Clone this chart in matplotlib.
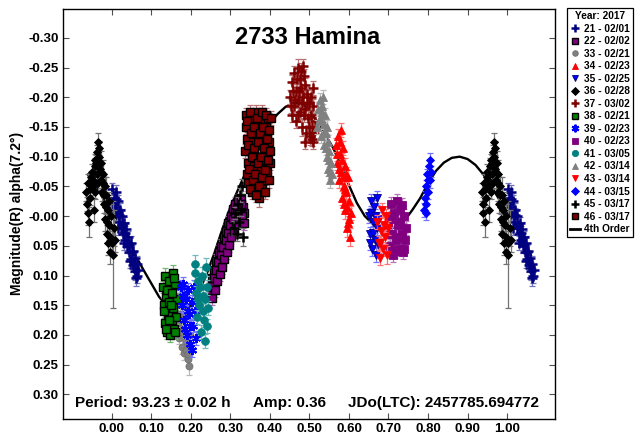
"""Folded lightcurve of 2733 Hamina with a 4th order Fourier fit."""

import matplotlib

matplotlib.use("Agg")
import matplotlib.pyplot as plt
import numpy as np
from matplotlib.colors import to_rgb
from matplotlib.lines import Line2D

# (phase, mag, error) for each observing session
SESSION_21 = [
    (0.002, -0.045, 0.010), (0.005, -0.030, 0.012), (0.008, -0.015, 0.010),
    (0.010, -0.040, 0.012), (0.013, -0.005, 0.012), (0.016, -0.025, 0.010),
    (0.018, 0.010, 0.012), (0.021, -0.010, 0.012), (0.024, 0.020, 0.010),
    (0.026, 0.000, 0.012), (0.029, 0.030, 0.012), (0.032, 0.012, 0.010),
    (0.034, 0.040, 0.012), (0.037, 0.022, 0.012), (0.040, 0.050, 0.012),
    (0.042, 0.035, 0.010), (0.045, 0.060, 0.012), (0.048, 0.045, 0.012),
    (0.050, 0.072, 0.015), (0.053, 0.058, 0.012), (0.055, 0.082, 0.012),
    (0.058, 0.070, 0.012), (0.060, 0.092, 0.015), (0.063, 0.080, 0.012),
    (0.065, 0.100, 0.012), (0.067, 0.090, 0.010), (0.004, -0.020, 0.012),
    (0.011, -0.028, 0.010), (0.019, -0.002, 0.012), (0.027, 0.015, 0.012),
    (0.035, 0.028, 0.012), (0.043, 0.048, 0.012), (0.051, 0.060, 0.012),
    (0.057, 0.088, 0.015), (0.062, 0.105, 0.012), (0.047, 0.075, 0.012),
    (0.031, 0.045, 0.012), (0.015, 0.020, 0.012),
]
SESSION_22 = [
    (0.250, 0.130, 0.010), (0.253, 0.105, 0.012), (0.256, 0.120, 0.010),
    (0.259, 0.090, 0.012), (0.262, 0.110, 0.010), (0.265, 0.075, 0.012),
    (0.268, 0.095, 0.010), (0.271, 0.060, 0.012), (0.274, 0.080, 0.010),
    (0.277, 0.050, 0.012), (0.280, 0.068, 0.010), (0.283, 0.035, 0.012),
    (0.286, 0.055, 0.010), (0.289, 0.025, 0.012), (0.292, 0.045, 0.010),
    (0.295, 0.012, 0.012), (0.298, 0.032, 0.010), (0.301, 0.000, 0.012),
    (0.304, 0.020, 0.010), (0.307, -0.012, 0.012), (0.310, 0.008, 0.010),
    (0.313, -0.020, 0.012), (0.316, 0.000, 0.010), (0.320, -0.025, 0.012),
    (0.324, -0.008, 0.010), (0.328, -0.030, 0.012), (0.332, -0.015, 0.010),
    (0.335, -0.005, 0.012), (0.252, 0.118, 0.010), (0.255, 0.138, 0.012),
    (0.258, 0.105, 0.010), (0.261, 0.125, 0.012), (0.264, 0.090, 0.010),
    (0.267, 0.110, 0.012), (0.270, 0.078, 0.010), (0.273, 0.098, 0.012),
    (0.276, 0.065, 0.010), (0.279, 0.085, 0.012), (0.282, 0.052, 0.010),
    (0.285, 0.072, 0.012), (0.288, 0.040, 0.010), (0.291, 0.060, 0.012),
    (0.294, 0.028, 0.010), (0.297, 0.048, 0.012), (0.300, 0.015, 0.010),
    (0.303, 0.035, 0.012), (0.306, 0.005, 0.010), (0.309, 0.025, 0.012),
    (0.312, -0.005, 0.010), (0.315, 0.015, 0.012), (0.318, -0.012, 0.010),
    (0.322, 0.005, 0.012), (0.326, -0.020, 0.010), (0.330, 0.000, 0.012),
    (0.334, 0.012, 0.012),
]
SESSION_33 = [
    (0.165, 0.150, 0.012), (0.168, 0.180, 0.012), (0.171, 0.205, 0.010),
    (0.174, 0.165, 0.012), (0.177, 0.220, 0.012), (0.180, 0.190, 0.010),
    (0.183, 0.230, 0.012), (0.186, 0.170, 0.012), (0.189, 0.210, 0.010),
    (0.192, 0.240, 0.012), (0.195, 0.252, 0.015), (0.198, 0.200, 0.012),
    (0.170, 0.135, 0.012), (0.176, 0.195, 0.012), (0.182, 0.150, 0.012),
    (0.188, 0.225, 0.012), (0.194, 0.232, 0.012),
]
SESSION_34 = [
    (0.568, -0.120, 0.012), (0.571, -0.090, 0.012), (0.573, -0.135, 0.012),
    (0.575, -0.060, 0.012), (0.577, -0.105, 0.012), (0.579, -0.145, 0.012),
    (0.581, -0.075, 0.012), (0.583, -0.030, 0.012), (0.585, -0.115, 0.012),
    (0.587, -0.050, 0.012), (0.589, -0.085, 0.012), (0.591, -0.010, 0.015),
    (0.593, -0.040, 0.012), (0.595, 0.020, 0.015), (0.597, -0.065, 0.012),
    (0.599, 0.005, 0.012), (0.601, -0.025, 0.012), (0.603, 0.035, 0.015),
    (0.605, -0.005, 0.012), (0.570, -0.105, 0.012), (0.574, -0.080, 0.012),
    (0.578, -0.125, 0.012), (0.582, -0.095, 0.012), (0.586, -0.065, 0.012),
    (0.590, -0.045, 0.012), (0.594, -0.015, 0.012), (0.598, 0.012, 0.012),
    (0.592, -0.070, 0.012), (0.588, -0.020, 0.012),
]
SESSION_35 = [
    (0.650, 0.000, 0.012), (0.653, 0.030, 0.012), (0.655, -0.025, 0.012),
    (0.658, 0.055, 0.012), (0.660, 0.010, 0.012), (0.663, -0.015, 0.012),
    (0.665, 0.040, 0.012), (0.668, 0.065, 0.012), (0.670, 0.020, 0.012),
    (0.672, -0.030, 0.012), (0.675, 0.050, 0.012), (0.677, 0.005, 0.012),
    (0.652, 0.045, 0.012), (0.657, -0.005, 0.012), (0.662, 0.028, 0.012),
    (0.667, 0.000, 0.012),
]
SESSION_36 = [
    (0.936, -0.040, 0.015), (0.938, -0.020, 0.012), (0.940, -0.005, 0.020),
    (0.941, -0.055, 0.015), (0.943, 0.010, 0.025), (0.946, -0.030, 0.012),
    (0.948, -0.065, 0.010), (0.950, -0.075, 0.012), (0.953, -0.050, 0.015),
    (0.955, -0.010, 0.020), (0.957, -0.085, 0.012), (0.959, -0.095, 0.010),
    (0.962, -0.070, 0.012), (0.964, -0.108, 0.012), (0.966, -0.125, 0.015),
    (0.968, -0.100, 0.012), (0.970, -0.080, 0.015), (0.972, -0.060, 0.012),
    (0.974, -0.090, 0.020), (0.976, -0.040, 0.015), (0.978, -0.070, 0.025),
    (0.980, -0.020, 0.015), (0.982, -0.050, 0.015), (0.984, 0.005, 0.020),
    (0.986, -0.035, 0.030), (0.988, 0.030, 0.015), (0.990, -0.010, 0.020),
    (0.992, 0.045, 0.020), (0.994, 0.015, 0.025), (0.996, 0.060, 0.020),
    (0.998, 0.000, 0.020), (0.003, 0.065, 0.090), (0.006, 0.020, 0.030),
    (0.009, 0.040, 0.020), (0.945, -0.045, 0.012), (0.952, -0.060, 0.012),
    (0.958, -0.040, 0.012), (0.961, -0.090, 0.012), (0.965, -0.055, 0.012),
    (0.969, -0.115, 0.012), (0.973, -0.075, 0.012), (0.977, -0.055, 0.012),
    (0.981, -0.035, 0.012), (0.985, -0.015, 0.012), (0.989, 0.010, 0.015),
    (0.993, -0.025, 0.015), (0.997, 0.035, 0.015), (0.001, 0.045, 0.020),
]
SESSION_37 = [
    (0.452, -0.200, 0.012), (0.455, -0.170, 0.012), (0.457, -0.225, 0.012),
    (0.460, -0.185, 0.015), (0.462, -0.240, 0.012), (0.465, -0.160, 0.012),
    (0.467, -0.210, 0.012), (0.470, -0.250, 0.015), (0.472, -0.195, 0.012),
    (0.475, -0.230, 0.012), (0.477, -0.175, 0.012), (0.480, -0.215, 0.012),
    (0.482, -0.150, 0.015), (0.485, -0.200, 0.012), (0.487, -0.235, 0.012),
    (0.490, -0.180, 0.012), (0.492, -0.140, 0.012), (0.495, -0.205, 0.012),
    (0.497, -0.165, 0.012), (0.500, -0.190, 0.012), (0.502, -0.135, 0.015),
    (0.505, -0.170, 0.012), (0.507, -0.150, 0.012), (0.510, -0.125, 0.012),
    (0.513, -0.160, 0.012), (0.483, -0.252, 0.012), (0.510, -0.215, 0.012),
    (0.454, -0.185, 0.012), (0.459, -0.210, 0.012), (0.463, -0.195, 0.012),
    (0.468, -0.230, 0.012), (0.471, -0.170, 0.012), (0.474, -0.210, 0.012),
    (0.478, -0.245, 0.012), (0.481, -0.190, 0.012), (0.486, -0.170, 0.012),
    (0.489, -0.220, 0.012), (0.493, -0.190, 0.012), (0.498, -0.150, 0.012),
    (0.503, -0.200, 0.012), (0.506, -0.130, 0.012), (0.508, -0.185, 0.012),
    (0.512, -0.140, 0.012), (0.488, -0.125, 0.012),
]
SESSION_38 = [
    (0.130, 0.120, 0.010), (0.132, 0.150, 0.012), (0.134, 0.180, 0.010),
    (0.136, 0.100, 0.012), (0.138, 0.135, 0.010), (0.140, 0.195, 0.012),
    (0.142, 0.165, 0.010), (0.144, 0.110, 0.012), (0.146, 0.145, 0.010),
    (0.148, 0.200, 0.012), (0.150, 0.125, 0.010), (0.152, 0.175, 0.012),
    (0.154, 0.095, 0.012), (0.156, 0.155, 0.010), (0.158, 0.190, 0.012),
    (0.160, 0.115, 0.010), (0.162, 0.170, 0.012), (0.164, 0.140, 0.010),
    (0.133, 0.160, 0.012), (0.137, 0.190, 0.012), (0.141, 0.125, 0.012),
    (0.145, 0.175, 0.012), (0.149, 0.150, 0.012), (0.153, 0.130, 0.012),
    (0.157, 0.105, 0.012), (0.161, 0.195, 0.012),
]
SESSION_39 = [
    (0.175, 0.120, 0.012), (0.178, 0.150, 0.012), (0.181, 0.115, 0.012),
    (0.184, 0.175, 0.012), (0.187, 0.140, 0.010), (0.190, 0.200, 0.012),
    (0.193, 0.125, 0.012), (0.196, 0.165, 0.012), (0.199, 0.215, 0.012),
    (0.202, 0.145, 0.012), (0.205, 0.185, 0.010), (0.208, 0.120, 0.012),
    (0.211, 0.160, 0.012), (0.213, 0.205, 0.012), (0.180, 0.135, 0.012),
    (0.186, 0.190, 0.012), (0.192, 0.160, 0.012), (0.198, 0.185, 0.012),
    (0.204, 0.225, 0.012),
]
SESSION_40 = [
    (0.700, 0.010, 0.012), (0.703, 0.050, 0.012), (0.706, -0.020, 0.012),
    (0.709, 0.030, 0.012), (0.712, 0.065, 0.012), (0.715, -0.005, 0.012),
    (0.718, 0.040, 0.012), (0.721, -0.025, 0.012), (0.724, 0.015, 0.012),
    (0.727, 0.055, 0.012), (0.730, -0.010, 0.012), (0.733, 0.030, 0.012),
    (0.736, 0.060, 0.012), (0.739, 0.000, 0.012), (0.742, 0.040, 0.012),
    (0.745, 0.020, 0.012), (0.704, 0.030, 0.012), (0.710, 0.005, 0.012),
    (0.716, 0.058, 0.012), (0.722, 0.035, 0.012), (0.728, 0.010, 0.012),
    (0.734, -0.018, 0.012), (0.740, 0.055, 0.012),
]
SESSION_41 = [
    (0.210, 0.095, 0.015), (0.213, 0.130, 0.012), (0.216, 0.170, 0.012),
    (0.219, 0.110, 0.012), (0.222, 0.150, 0.010), (0.225, 0.195, 0.012),
    (0.228, 0.100, 0.015), (0.231, 0.135, 0.012), (0.234, 0.175, 0.012),
    (0.237, 0.210, 0.012), (0.240, 0.120, 0.012), (0.243, 0.155, 0.012),
    (0.211, 0.080, 0.015), (0.239, 0.085, 0.015), (0.218, 0.140, 0.012),
    (0.224, 0.120, 0.012), (0.230, 0.160, 0.012), (0.236, 0.140, 0.012),
    (0.241, 0.185, 0.012),
]
SESSION_42 = [
    (0.520, -0.150, 0.012), (0.523, -0.180, 0.012), (0.526, -0.195, 0.012),
    (0.528, -0.165, 0.012), (0.530, -0.135, 0.012), (0.532, -0.185, 0.012),
    (0.534, -0.200, 0.012), (0.536, -0.155, 0.012), (0.538, -0.120, 0.012),
    (0.540, -0.170, 0.012), (0.542, -0.140, 0.012), (0.544, -0.100, 0.012),
    (0.546, -0.125, 0.012), (0.548, -0.080, 0.012), (0.550, -0.110, 0.012),
    (0.552, -0.060, 0.012), (0.554, -0.090, 0.012), (0.556, -0.070, 0.015),
    (0.525, -0.160, 0.012), (0.531, -0.175, 0.012), (0.537, -0.140, 0.012),
    (0.541, -0.115, 0.012), (0.545, -0.150, 0.012), (0.549, -0.095, 0.012),
    (0.553, -0.075, 0.012),
]
SESSION_43 = [
    (0.672, 0.010, 0.012), (0.675, 0.045, 0.012), (0.678, 0.070, 0.012),
    (0.681, 0.025, 0.012), (0.684, -0.010, 0.012), (0.687, 0.055, 0.012),
    (0.690, 0.035, 0.012), (0.693, 0.000, 0.012), (0.696, 0.065, 0.015),
    (0.699, 0.020, 0.012), (0.679, 0.045, 0.012), (0.688, 0.015, 0.012),
]
SESSION_44 = [
    (0.790, -0.010, 0.012), (0.792, -0.030, 0.012), (0.794, -0.050, 0.010),
    (0.796, -0.020, 0.012), (0.798, -0.070, 0.010), (0.800, -0.040, 0.012),
    (0.802, -0.085, 0.010), (0.804, -0.060, 0.012), (0.806, -0.095, 0.012),
    (0.808, -0.075, 0.010), (0.795, -0.005, 0.012), (0.801, -0.060, 0.012),
    (0.797, -0.040, 0.012),
]
SESSION_45 = [
    (0.310, 0.020, 0.012), (0.313, -0.005, 0.010), (0.316, 0.030, 0.012),
    (0.319, -0.020, 0.012), (0.322, 0.010, 0.010), (0.325, -0.035, 0.012),
    (0.328, -0.010, 0.010), (0.330, -0.050, 0.012), (0.332, 0.035, 0.015),
]
SESSION_46 = [
    (0.340, -0.170, 0.012), (0.342, -0.130, 0.012), (0.344, -0.090, 0.012),
    (0.346, -0.055, 0.012), (0.348, -0.150, 0.012), (0.350, -0.110, 0.012),
    (0.352, -0.070, 0.012), (0.354, -0.040, 0.012), (0.356, -0.165, 0.012),
    (0.358, -0.125, 0.012), (0.360, -0.085, 0.012), (0.362, -0.050, 0.012),
    (0.364, -0.175, 0.012), (0.366, -0.140, 0.012), (0.368, -0.100, 0.012),
    (0.370, -0.060, 0.012), (0.372, -0.030, 0.015), (0.374, -0.160, 0.012),
    (0.376, -0.120, 0.012), (0.378, -0.080, 0.012), (0.380, -0.045, 0.012),
    (0.382, -0.170, 0.012), (0.384, -0.135, 0.012), (0.386, -0.095, 0.012),
    (0.388, -0.060, 0.012), (0.390, -0.150, 0.012), (0.392, -0.110, 0.012),
    (0.394, -0.075, 0.012), (0.396, -0.165, 0.012), (0.398, -0.125, 0.012),
    (0.400, -0.090, 0.012), (0.338, -0.110, 0.012), (0.339, -0.150, 0.012),
    (0.341, -0.070, 0.012), (0.343, -0.160, 0.012), (0.345, -0.120, 0.012),
    (0.347, -0.080, 0.012), (0.349, -0.045, 0.012), (0.351, -0.175, 0.012),
    (0.353, -0.140, 0.012), (0.355, -0.100, 0.012), (0.357, -0.060, 0.012),
    (0.359, -0.150, 0.012), (0.361, -0.115, 0.012), (0.363, -0.070, 0.012),
    (0.365, -0.035, 0.012), (0.367, -0.165, 0.012), (0.369, -0.125, 0.012),
    (0.371, -0.090, 0.012), (0.373, -0.050, 0.012), (0.375, -0.140, 0.012),
    (0.377, -0.100, 0.012), (0.379, -0.175, 0.012), (0.381, -0.065, 0.012),
    (0.383, -0.150, 0.012), (0.385, -0.115, 0.012), (0.387, -0.078, 0.012),
    (0.389, -0.040, 0.012), (0.391, -0.170, 0.012), (0.393, -0.130, 0.012),
    (0.395, -0.095, 0.012), (0.397, -0.060, 0.012), (0.399, -0.145, 0.012),
    (0.401, -0.110, 0.012), (0.402, -0.165, 0.012),
]

SESSION_LABELS = [
    "21 - 02/01", "22 - 02/02", "33 - 02/21", "34 - 02/23", "35 - 02/25",
    "36 - 02/28", "37 - 03/02", "38 - 02/21", "39 - 02/23", "40 - 02/23",
    "41 - 03/05", "42 - 03/14", "43 - 03/14", "44 - 03/15", "45 - 03/17",
    "46 - 03/17",
]

# 4th order fit sampled every 0.02 in phase
CURVE_PHASE = np.linspace(0.0, 1.0, 51)
CURVE_MAG = [
    -0.005, 0.010, 0.035, 0.066, 0.090, 0.113, 0.136, 0.152, 0.162, 0.163,
    0.152, 0.128, 0.098, 0.062, 0.022, -0.015, -0.045, -0.075, -0.105, -0.135,
    -0.157, -0.172, -0.184, -0.190, -0.190, -0.178, -0.158, -0.137, -0.115, -0.085,
    -0.052, -0.022, 0.000, 0.013, 0.020, 0.022, 0.018, 0.008, -0.010, -0.030,
    -0.055, -0.076, -0.090, -0.098, -0.100, -0.096, -0.086, -0.070, -0.050, -0.028,
    -0.005,
]

TITLE = "2733 Hamina"
PERIOD_TEXT = "Period: 93.23 \u00b1 0.02 h"
AMP_TEXT = "Amp: 0.36"
EPOCH_TEXT = "JDo(LTC): 2457785.694772"
Y_LABEL = "Magnitude(R) alpha(7.2\u00b0)"

ASTERISK = (6, 2, 0)

# marker, face colour, edge colour, size, edge width
STYLES = [
    ("+", "#000080", "#000080", 6.5, 1.8),
    ("s", "#800080", "black", 5.5, 1.0),
    ("o", "#808080", "#707070", 5.0, 0.6),
    ("^", "#ff0000", "#ff0000", 6.0, 0.6),
    ("v", "#0000ff", "#000080", 6.0, 0.6),
    ("D", "black", "black", 4.3, 0.6),
    ("+", "#800000", "#800000", 6.5, 1.8),
    ("s", "#008000", "black", 5.5, 1.0),
    (ASTERISK, "#0000ff", "#0000ff", 6.5, 1.5),
    ("s", "#800080", "#800080", 5.5, 0.6),
    ("o", "#008080", "#008080", 5.5, 0.6),
    ("^", "#808080", "#808080", 6.0, 0.6),
    ("v", "#ff0000", "#ff0000", 6.0, 0.6),
    ("D", "#0000ff", "#0000ff", 4.3, 0.6),
    ("+", "black", "black", 6.5, 1.8),
    ("s", "#800000", "black", 5.5, 1.0),
]
LEGEND_SIZES = [5.5, 4.5, 4.0, 5.0, 5.0, 3.8, 5.5, 4.5, 5.5, 4.5, 4.5, 5.0, 5.0, 3.8, 5.5, 4.5]

WRAP = 0.07


def lighter(color, amount=0.45):
    rgb = np.array(to_rgb(color))
    return tuple(rgb + (1.0 - rgb) * amount)


def folded(points):
    """Return phases/mags/errors with the edges repeated past 0 and 1."""
    arr = np.asarray(points, dtype=float)
    phase, mag, err = arr[:, 0], arr[:, 1], arr[:, 2]
    low = phase > 1.0 - WRAP
    high = phase < WRAP
    x = np.concatenate([phase, phase[low] - 1.0, phase[high] + 1.0])
    y = np.concatenate([mag, mag[low], mag[high]])
    e = np.concatenate([err, err[low], err[high]])
    return x, y, e


def main() -> None:
    plt.rcParams["font.family"] = ["Liberation Sans", "DejaVu Sans"]
    plt.rcParams["font.weight"] = "bold"

    sessions = [
        SESSION_21, SESSION_22, SESSION_33, SESSION_34, SESSION_35, SESSION_36,
        SESSION_37, SESSION_38, SESSION_39, SESSION_40, SESSION_41, SESSION_42,
        SESSION_43, SESSION_44, SESSION_45, SESSION_46,
    ]

    W, H = 636, 437
    fig = plt.figure(figsize=(W / 100, H / 100), dpi=100)
    ax = fig.add_axes([63 / W, 1 - 419.3 / H, (555 - 63) / W, (419.3 - 9.3) / H])

    # fit curve, repeated one cycle either side so it covers the folded edges
    cx = np.concatenate([CURVE_PHASE - 1.0, CURVE_PHASE[1:], CURVE_PHASE[1:] + 1.0])
    cy = np.concatenate([CURVE_MAG, CURVE_MAG[1:], CURVE_MAG[1:]])
    keep = (cx >= -WRAP) & (cx <= 1.0 + WRAP)
    ax.plot(cx[keep], cy[keep], color="black", lw=1.7, zorder=1)

    handles = []
    for i, (points, style) in enumerate(zip(sessions, STYLES)):
        marker, face, edge, size, mew = style
        x, y, e = folded(points)
        ax.errorbar(x, y, yerr=e, fmt="none", ecolor=lighter(face), elinewidth=0.9,
                    capsize=2, capthick=0.9, zorder=2 + 2 * i)
        line_color = face if marker in ("+", ASTERISK) else edge
        ax.plot(x, y, ls="none", marker=marker, markersize=size, markerfacecolor=face,
                markeredgecolor=line_color, markeredgewidth=mew, zorder=3 + 2 * i)
        handles.append(Line2D([], [], ls="none", marker=marker,
                              markersize=LEGEND_SIZES[i], markerfacecolor=face,
                              markeredgecolor=line_color, markeredgewidth=mew))
    handles.append(Line2D([], [], color="black", lw=2))
    labels = SESSION_LABELS + ["4th Order"]

    ax.set_xlim(-0.123, 1.121)
    ax.set_ylim(0.342, -0.348)
    ax.set_xticks(np.round(np.arange(0.0, 1.001, 0.1), 2))
    ax.set_yticks(np.round(np.arange(-0.30, 0.301, 0.05), 2))
    ax.xaxis.set_major_formatter(lambda v, _: f"{v:.2f}")
    ax.yaxis.set_major_formatter(lambda v, _: f"{v:.2f}")
    ax.tick_params(direction="in", length=4.5, width=0.8, color="#505050",
                   top=True, right=True, labelsize=9.5, pad=3)
    for spine in ax.spines.values():
        spine.set_linewidth(1.0)

    fig.text(308 / W, 1 - 38 / H, TITLE, ha="center", va="center",
             fontsize=17, fontweight="bold")
    fig.text(17 / W, 1 - 213 / H, Y_LABEL, ha="center", va="center",
             rotation=90, fontsize=10, fontweight="bold")
    for x_px, text in [(75, PERIOD_TEXT), (253, AMP_TEXT), (348, EPOCH_TEXT)]:
        fig.text(x_px / W, 1 - 403 / H, text, ha="left", va="center",
                 fontsize=11, fontweight="bold")

    leg = fig.legend(handles, labels, loc="upper left",
                     bbox_to_anchor=(567 / W, 1 - 8 / H), borderaxespad=0,
                     title="Year: 2017", fontsize=7.3, title_fontsize=7.3,
                     fancybox=False, edgecolor="black", framealpha=1,
                     borderpad=0.3, labelspacing=0.25, handlelength=1.0,
                     handletextpad=0.35)
    leg.get_frame().set_linewidth(0.9)
    leg.get_title().set_fontweight("bold")

    fig.savefig("out.png", dpi=100)


if __name__ == "__main__":
    main()
